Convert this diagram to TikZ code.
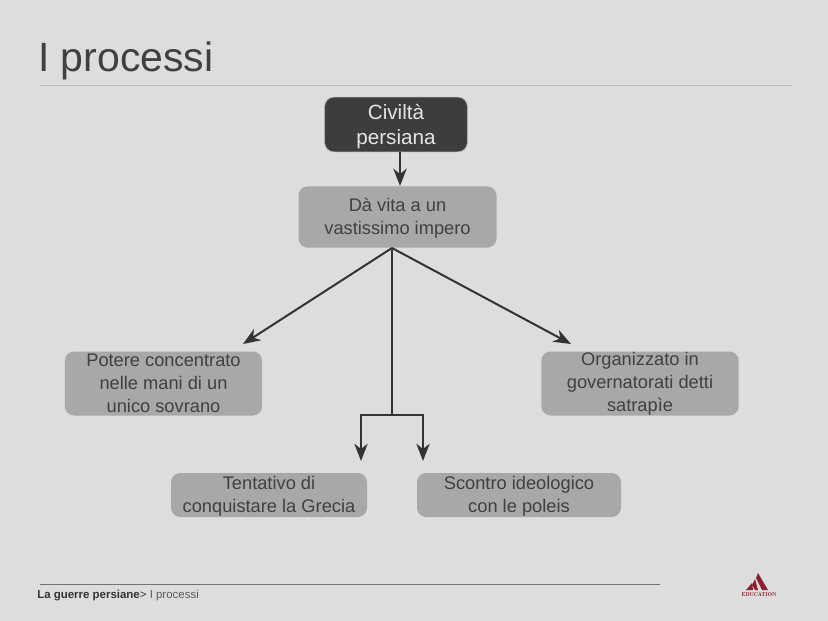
\documentclass[tikz,border=0pt]{standalone}
\usepackage{fontspec}
\setmainfont{Liberation Sans}
\usetikzlibrary{arrows.meta}
\definecolor{slidebg}{HTML}{DDDDDD}
\definecolor{darkbox}{HTML}{3D3D3D}
\definecolor{greybox}{HTML}{A8A8A8}
\definecolor{inktext}{HTML}{404040}
\definecolor{logored}{HTML}{8E1F2F}
\newcommand{\lift}[1]{\rule{0pt}{#1em}}
\tikzset{
  box/.style={fill=greybox, rounded corners=7pt, text=inktext, align=center,
    font=\fontsize{13.7}{17.2}\selectfont, inner sep=0pt},
  topbox/.style={box, fill=darkbox, text=white!90!black, draw=white!70!black, line width=0.4pt,
    font=\fontsize{15.5}{18.75}\selectfont},
  link/.style={draw=black!80, line width=1.5pt, -{Stealth[length=13pt,width=10pt,inset=4pt]}},
  stem/.style={draw=black!80, line width=1.5pt}
}
\begin{document}
\begin{tikzpicture}[x=0.75pt,y=-0.75pt]
  \useasboundingbox (0,0) rectangle (828,621);
  \fill[slidebg] (0,0) rectangle (828,621);
  % title and rules
  \node[anchor=base west, inner sep=0pt, text=inktext, font=\fontsize{30.7}{34}\selectfont] (title) at (38,71) {I processi};
  \coordinate (ruleA) at (40,85);
  \coordinate (ruleB) at (792,85);
  \draw[black!25, line width=0.6pt] (ruleA) -- (ruleB);
  \coordinate (footA) at (40,584);
  \coordinate (footB) at (660,584);
  \draw[black!55, line width=0.7pt] (footA) -- (footB);
  \node[anchor=base west, inner sep=0pt, text=black!80, font=\fontsize{8.6}{10}\selectfont] (foot) at (37,598)
    {\textbf{La guerre persiane}> \textcolor{black!65}{I processi}};
  % boxes
  \node[topbox, minimum width=107pt, minimum height=41pt] (civ) at (396,124.5) {\lift{0.92}Civiltà\\persiana};
  \node[box, minimum width=148.5pt, minimum height=46pt] (vita) at (397.5,217) {\lift{0.84}Dà vita a un\\vastissimo impero};
  \node[box, minimum width=148pt, minimum height=48pt] (potere) at (163.5,383.5) {Potere concentrato\\nelle mani di un\\unico sovrano};
  \node[box, minimum width=148pt, minimum height=48pt] (satr) at (640,383.5) {Organizzato in\\governatorati detti\\satrapìe};
  \node[box, minimum width=147pt, minimum height=33pt] (grecia) at (269,495) {\lift{0.84}Tentativo di\\conquistare la Grecia};
  \node[box, minimum width=153pt, minimum height=33pt] (poleis) at (519,495) {\lift{0.84}Scontro ideologico\\con le poleis};
  % connectors
  \coordinate (fork) at (392,248);
  \coordinate (split) at (392,415);
  \coordinate (splitL) at (361,415);
  \coordinate (splitR) at (423,415);
  \draw[link] (civ.south -| 400,0) -- (400,186);
  \draw[link] (fork) -- (243,344);
  \draw[link] (fork) -- (571,344);
  \draw[stem] (fork) -- (split);
  \draw[link] (split) -- (splitL) -- (361,461);
  \draw[link] (split) -- (splitR) -- (423,461);
  % logo
  \fill[logored] (758,573) -- (768,590) -- (762,590) -- (756,578) -- cycle;
  \fill[logored] (755,579) -- (758,590) -- (755,590) -- (752,585) -- cycle;
  \fill[logored] (752,583) -- (753,590) -- (746,590) -- cycle;
  \node[inner sep=0pt, text=logored, font=\fontfamily{lmr}\bfseries\fontsize{4.2}{5}\selectfont] (logo) at (759,595) {EDUCATION};
\end{tikzpicture}
\end{document}
